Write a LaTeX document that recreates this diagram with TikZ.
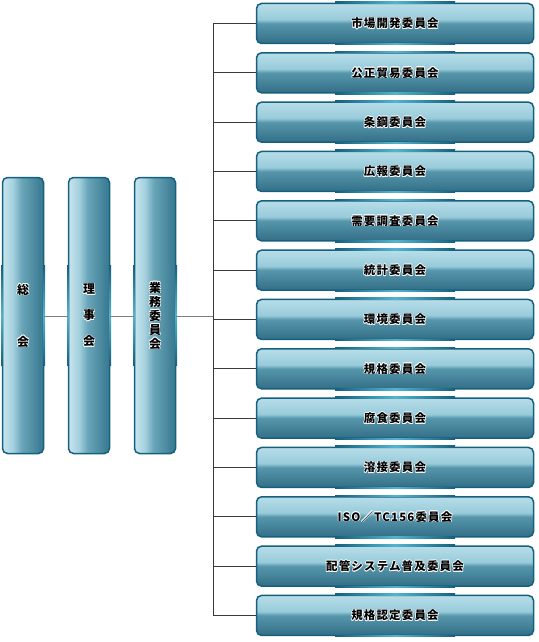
\documentclass[tikz,border=0pt]{standalone}
\usepackage{fontspec}
\setmainfont{Noto Sans CJK JP}
\definecolor{bordc}{HTML}{15607E}
\definecolor{glowc}{HTML}{52B4CE}
\definecolor{linec}{HTML}{7F7F7F}
\definecolor{tickc}{HTML}{3A3A3A}
\newcommand\halo[1]{\leavevmode
  \rlap{\color{white}\kern-0.7pt#1}\rlap{\color{white}\kern0.7pt#1}%
  \rlap{\color{white}\raisebox{0.7pt}{#1}}\rlap{\color{white}\raisebox{-0.7pt}{#1}}%
  \rlap{\color{white}\kern-0.5pt\raisebox{0.5pt}{#1}}\rlap{\color{white}\kern0.5pt\raisebox{0.5pt}{#1}}%
  \rlap{\color{white}\kern-0.5pt\raisebox{-0.5pt}{#1}}\rlap{\color{white}\kern0.5pt\raisebox{-0.5pt}{#1}}%
  {\color{black}#1}}
\definecolor{hA}{HTML}{336F87}
\definecolor{hB}{HTML}{5696AB}
\definecolor{hC}{HTML}{98CBDA}
\definecolor{hD}{HTML}{BFE2EC}
\definecolor{hE}{HTML}{E6F5F9}
\definecolor{vA}{HTML}{BFE1EB}
\definecolor{vB}{HTML}{E6F5F9}
\definecolor{vC}{HTML}{A3D0DD}
\definecolor{vD}{HTML}{6AA6B9}
\definecolor{vE}{HTML}{3F7F96}
\definecolor{vF}{HTML}{2A6780}
\pgfdeclarehorizontalshading{vglass}{100bp}{color(0bp)=(vA); color(15bp)=(vB); color(38bp)=(vC); color(48bp)=(vD); color(70bp)=(vE); color(100bp)=(vF)}
\pgfdeclareverticalshading{hglass}{100bp}{color(0bp)=(hA); color(25bp)=(hA); color(50bp)=(hB); color(55bp)=(hC); color(80bp)=(hD); color(100bp)=(hE)}
\tikzset{
  hbox/.style={draw=bordc, line width=1.5pt, rounded corners=5pt, shading=hglass,
    minimum width=277pt, minimum height=40pt, inner sep=0pt,
    font=\fontsize{11.5}{13}\selectfont\bfseries\addfontfeature{LetterSpace=10}},
  vbox/.style={draw=bordc, line width=1.5pt, rounded corners=5pt, shading=vglass,
    minimum width=41pt, minimum height=276pt, inner sep=0pt, align=center,
    font=\fontsize{12}{14}\selectfont\bfseries},
  hglow/.style={left color=bordc, right color=bordc, middle color=glowc},
  vglow/.style={top color=bordc, bottom color=bordc, middle color=glowc},
  conn/.style={draw=linec, line width=1.3pt},
  tick/.style={draw=tickc, line width=1pt}
}
\begin{document}
\begin{tikzpicture}[x=1pt,y=-1pt]
\useasboundingbox (0,0) rectangle (538,642);
\node[vbox] (sokai) at (23,315.5) {\halo{総}\\[38pt]\halo{会}};
\node[vbox] (rijikai) at (89,315.5) {\halo{理}\\[12pt]\halo{事}\\[12pt]\halo{会}};
\node[vbox] (gyomu) at (155,315.5) {\halo{業}\\\halo{務}\\\halo{委}\\\halo{員}\\\halo{会}};
\foreach \n in {sokai,rijikai,gyomu}{
  \shade[vglow] ([xshift=-0.75pt,yshift=-50pt]\n.west) rectangle ([xshift=0.75pt,yshift=50pt]\n.west);
  \shade[vglow] ([xshift=-0.75pt,yshift=-50pt]\n.east) rectangle ([xshift=0.75pt,yshift=50pt]\n.east);
}
\coordinate (jt) at (213,23.5);
\coordinate (jb) at (213,615.5);
\coordinate (jm) at (213,316.5);
\foreach \i/\t in {0/市場開発委員会,1/公正貿易委員会,2/条鋼委員会,3/広報委員会,4/需要調査委員会,5/統計委員会,6/環境委員会,7/規格委員会,8/腐食委員会,9/溶接委員会,10/ISO／TC156委員会,11/配管システム普及委員会,12/規格認定委員会}{
  \node[hbox] (c\i) at (395,23.5+49.33*\i) {\halo{\t}};
  \shade[hglow] ([xshift=-60pt,yshift=-0.75pt]c\i.north) rectangle ([xshift=60pt,yshift=0.75pt]c\i.north);
  \shade[hglow] ([xshift=-60pt,yshift=-0.75pt]c\i.south) rectangle ([xshift=60pt,yshift=0.75pt]c\i.south);
  \path[tick] (213,23.5+49.33*\i) -- (c\i.west);
}
\path[tick] (jt) -- (jb);
\path[conn] (sokai.east |- jm) -- (rijikai.west |- jm);
\path[conn] (rijikai.east |- jm) -- (gyomu.west |- jm);
\path[conn] (gyomu.east |- jm) -- (jm);
\end{tikzpicture}
\end{document}
